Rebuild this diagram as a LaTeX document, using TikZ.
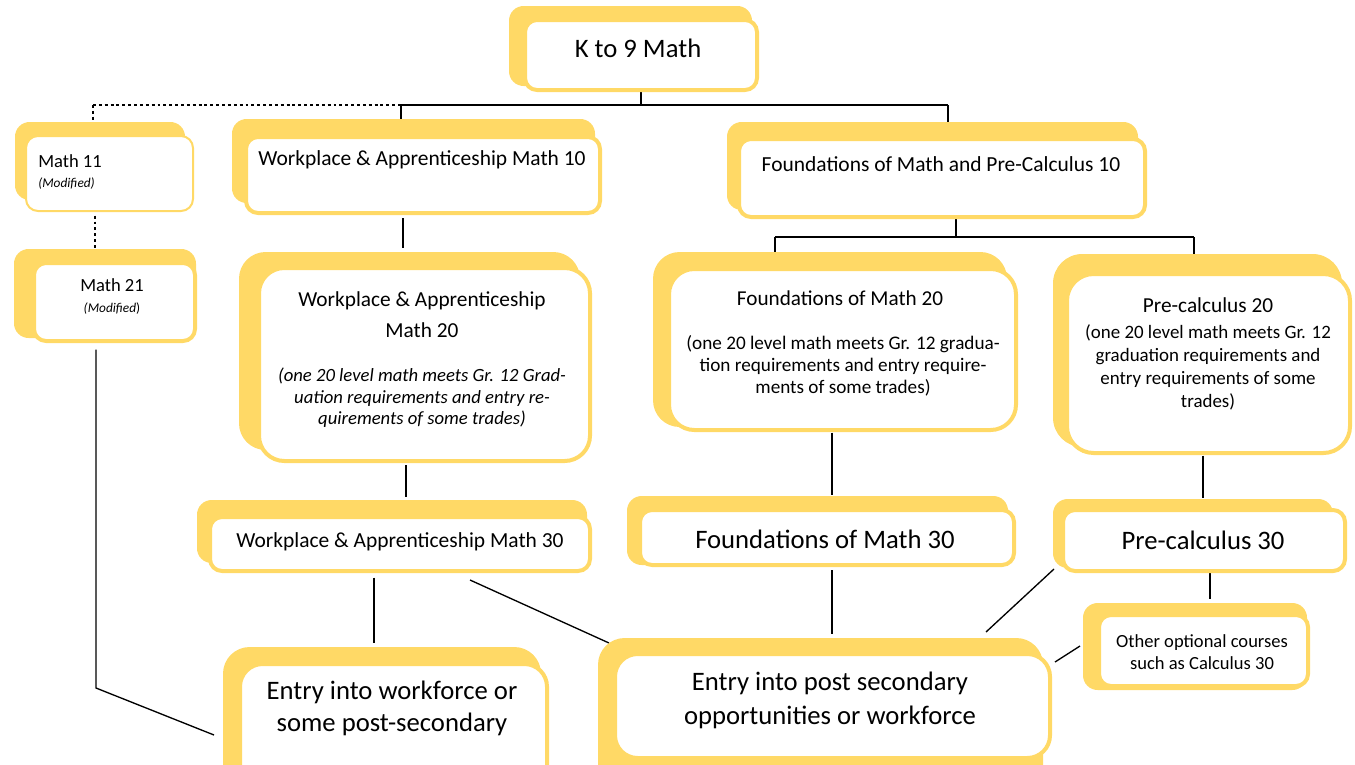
\documentclass[tikz,border=0pt]{standalone}
\usepackage{fontspec}
\setmainfont{Carlito}
\usetikzlibrary{fit,calc}
\definecolor{yel}{RGB}{255,217,102}
\pgfdeclarelayer{bg}
\pgfsetlayers{bg,main}
\newcommand\fsz[2]{\fontsize{#1}{#2}\selectfont}
\tikzset{
  backbox/.style={fill=yel, draw=none, inner sep=0pt, outer sep=0pt, rounded corners=#1},
  backbox/.default=11pt,
  frontbox/.style={fill=white, draw=yel, line width=3pt, inner sep=0pt, outer sep=0pt, rounded corners=#1},
  frontbox/.default=9pt,
  conn/.style={draw=black, line width=1pt},
  dots/.style={draw=black, line width=1.7pt, dash pattern=on 2.2pt off 2.2pt},
  txt/.style={inner sep=0pt, align=center, text=black},
  norm/.style={font=\fsz{16.1}{19.5}},
  big/.style={font=\fsz{20}{25}},
}
\begin{document}
\begin{tikzpicture}[x=0.75pt, y=-0.75pt]
\useasboundingbox (0,0) rectangle (1355,764);
\clip (0,0) rectangle (1355,764);
% ---------- boxes ----------
\node[backbox, fit={(509,6) (752,86)}] (k9b) {};
\node[frontbox, fit={(525,20) (757,90)}] (k9) {};
\node[backbox, fit={(15,122) (185,200)}] (m11b) {};
\node[frontbox, line width=1.5pt, fit={(26,136) (193,211)}] (m11) {};
\node[backbox, fit={(14,249) (196,338)}] (m21b) {};
\node[frontbox, fit={(34,263) (195,341)}] (m21) {};
\node[backbox, fit={(232,119) (595,203)}] (wa10b) {};
\node[frontbox, fit={(246,137) (600,213)}] (wa10) {};
\node[backbox=20pt, fit={(239,252) (580,450)}] (wa20b) {};
\node[frontbox=19pt, fit={(259,268) (590,461)}] (wa20) {};
\node[backbox, fit={(197,500) (587,563)}] (wa30b) {};
\node[frontbox, fit={(210,517) (590,571)}] (wa30) {};
\node[backbox=20pt, fit={(223,647) (541,800)}] (ewb) {};
\node[frontbox=17pt, fit={(240,664) (547,790)}] (ew) {};
\node[backbox=20pt, fit={(598,638) (1043,800)}] (epb) {};
\node[frontbox=17pt, fit={(615,654) (1050,758)}] (ep) {};
\node[backbox, fit={(727,122) (1138,210)}] (f10b) {};
\node[frontbox, fit={(739,139) (1145,217)}] (f10) {};
\node[backbox=20pt, fit={(653,252) (1007,427)}] (f20b) {};
\node[frontbox=19pt, fit={(669,269) (1016,430)}] (f20) {};
\node[backbox, fit={(627,496) (1008,565)}] (f30b) {};
\node[frontbox, fit={(640,510) (1014,565)}] (f30) {};
\node[backbox=22pt, fit={(1053,254) (1342,447)}] (p20b) {};
\node[frontbox=20pt, fit={(1067,274) (1350,453)}] (p20) {};
\node[backbox, fit={(1053,499) (1333,568)}] (p30b) {};
\node[frontbox, fit={(1063,510) (1345,571)}] (p30) {};
\node[backbox, fit={(1083,603) (1307,690)}] (othb) {};
\node[frontbox, fit={(1099,615) (1308,686)}] (oth) {};
% ---------- texts ----------
\node[txt, font=\fsz{20}{24}] (k9t) at (638,48) {K to 9 Math};
\node[txt, anchor=west, font=\fsz{13.9}{16}] (m11t) at (38,161) {Math 11};
\node[txt, anchor=west, font=\fsz{10}{12}\itshape] (m11m) at (38,184) {(Modified)};
\node[txt, font=\fsz{13.9}{16}] (m21t) at (112,285) {Math 21};
\node[txt, font=\fsz{10}{12}] (m21m) at (112,309) {\textit{(Modified})};
\node[txt, norm] (wa10t) at (422,160) {Workplace \& Apprenticeship Math 10};
\node[txt, font=\fsz{16}{23}] (wa20t) at (422,314.5) {Workplace \& Apprenticeship\\Math 20};
\node[txt, font=\fsz{14}{16}\itshape] (wa20p) at (422,398) {(one 20 level math meets Gr. 12 Grad-\\uation requirements and entry re-\\quirements of some trades)};
\node[txt, norm] (wa30t) at (400,542) {Workplace \& Apprenticeship Math 30};
\node[txt, font=\fsz{20}{24}] (ewt) at (392,708) {Entry into workforce or\\some post-secondary};
\node[txt, norm] (f10t) at (941,164) {Foundations of Math and Pre-Calculus 10};
\node[txt, font=\fsz{15.9}{19}] (f20t) at (840,298) {Foundations of Math 20};
\node[txt, font=\fsz{14.4}{16.5}] (f20p) at (843,366) {(one 20 level math meets Gr. 12 gradua-\\tion requirements and entry require-\\ments of some trades)};
\node[txt, font=\fsz{16}{19}] (p20t) at (1208,305) {Pre-calculus 20};
\node[txt, font=\fsz{14.2}{17.25}] (p20p) at (1208,367.5) {(one 20 level math meets Gr. 12\\graduation requirements and\\entry requirements of some\\trades)};
\node[txt, big] (f30t) at (825,539) {Foundations of Math 30};
\node[txt, big] (p30t) at (1203,540) {Pre-calculus 30};
\node[txt, font=\fsz{13.9}{16.5}] (otht) at (1202,652) {Other optional courses\\such as Calculus 30};
\node[txt, font=\fsz{20}{25.5}] (ept) at (830,700) {Entry into post secondary\\opportunities or workforce};
% ---------- connectors ----------
\coordinate (t1) at (93,105);
\coordinate (t2) at (401,105);
\coordinate (t3) at (948,105);
\coordinate (s0) at (956,237);
\coordinate (s1) at (775,237);
\coordinate (s2) at (1194,237);
\coordinate (c1) at (96,688);
\coordinate (c2) at (214,735);
\begin{pgfonlayer}{bg}
\draw[conn] (k9.south) -- (k9.south |- t2);
\draw[conn] (t2) -- (t3);
\draw[dots] (t1) -- (t2);
\draw[dots] (t1) -- (t1 |- m11b.north);
\draw[conn] (t2) -- (t2 |- wa10b.north);
\draw[conn] (t3) -- (t3 |- f10b.north);
\draw[dots, shorten <=3.5pt] (m11.south -| 95,0) -- (m21b.north -| 95,0);
\draw[conn, shorten <=6.5pt] (m21.south -| c1) -- (c1) -- (c2);
\draw[conn, shorten <=4pt, shorten >=3pt] (wa10.south -| 403,0) -- (wa20b.north -| 403,0);
\draw[conn, shorten <=3pt, shorten >=2pt] (wa20.south -| 406,0) -- (wa30b.north -| 406,0);
\draw[conn, shorten <=5pt, shorten >=3pt] (wa30.south -| 374,0) -- (ewb.north -| 374,0);
\draw[conn] ($(wa30.south -| 470,0)+(0,9)$) -- ($(epb.north west)+(11,5)$);
\draw[conn] (f10.south -| s0) -- (s0);
\draw[conn] (s1) -- (s2);
\draw[conn] (s1) -- (f20b.north -| s1);
\draw[conn] (s2) -- (p20b.north -| s2);
\draw[conn, shorten <=2pt, shorten >=1pt] (f20.south -| 832,0) -- (f30b.north -| 832,0);
\draw[conn, shorten <=4pt, shorten >=3pt] (f30.south -| 832,0) -- (epb.north -| 832,0);
\draw[conn, shorten <=2pt, shorten >=1pt] (p20.south -| 1203,0) -- (p30b.north -| 1203,0);
\draw[conn, shorten <=1pt, shorten >=3pt] (p30.south -| 1210,0) -- (othb.north -| 1210,0);
\draw[conn] ($(p30.south west)+(-9,-2)$) -- ($(epb.north east)+(-57,-6)$);
\draw[conn] ($(othb.west |- 0,646)+(-3,0)$) -- ($(ep.east |- 0,662)+(5,0)$);
\end{pgfonlayer}
\end{tikzpicture}
\end{document}
